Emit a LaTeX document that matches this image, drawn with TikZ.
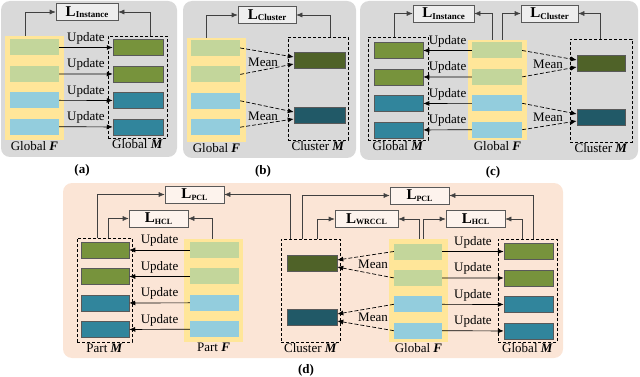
\documentclass[tikz,border=0pt]{standalone}
\usepackage{fontspec}
\setmainfont{Liberation Serif}
\usepackage{tikz}
\usetikzlibrary{positioning, arrows.meta}

\definecolor{panelgray}{HTML}{D9D9D9}
\definecolor{panelpeach}{HTML}{FBE5D6}
\definecolor{colyellow}{HTML}{FFE699}
\definecolor{fgreen}{HTML}{C3D69B}
\definecolor{fblue}{HTML}{93CDDD}
\definecolor{mgreen}{HTML}{77933C}
\definecolor{mteal}{HTML}{31859C}
\definecolor{cgreen}{HTML}{4F6228}
\definecolor{cteal}{HTML}{215967}

\newcommand{\lossname}[2][9]{{\fontsize{15}{15}\selectfont\textbf{L}}\raisebox{-1.5pt}{\fontsize{#1}{#1}\selectfont\textbf{#2}}}

\begin{document}
\begin{tikzpicture}[
    x=1pt, y=-1pt,
    node distance=10pt,
    panel/.style={rectangle, rounded corners=9pt, fill=panelgray},
    fcol/.style={rectangle, fill=colyellow, minimum width=59pt, inner sep=0pt},
    mbox/.style={rectangle, draw, dashed, dash pattern=on 3pt off 2pt, line width=0.9pt, minimum width=59pt, inner sep=0pt},
    fbar/.style={rectangle, minimum width=49pt, minimum height=16pt, inner sep=0pt},
    mbar/.style={fbar, draw=black!65, line width=0.5pt},
    lossbox/.style={rectangle, draw=black!65, line width=0.6pt, fill=white!55!panelgray, minimum height=17pt, inner sep=0pt},
    lbl/.style={inner sep=1pt},
    tag/.style={font=\fontsize{13}{14}\selectfont\bfseries},
    upd/.style={-{Latex[length=6pt,width=5pt]}, line width=0.7pt},
    meanarr/.style={upd, dashed, dash pattern=on 4pt off 2pt},
    lossarr/.style={-{Latex[length=6pt,width=5pt]}, line width=0.6pt, draw=black!75},
    font=\fontsize{13}{14}\selectfont
]
\useasboundingbox (0,0) rectangle (640,377);

\node[panel, minimum width=176pt, minimum height=156pt] (aBg) at (89,79) {};
\node[panel, minimum width=173pt, minimum height=157pt] (bBg) at (269.5,79.5) {};
\node[panel, minimum width=278pt, minimum height=159pt] (cBg) at (499,80.5) {};
\node[panel, fill=panelpeach, minimum width=500pt, minimum height=175pt] (dBg) at (313,270.5) {};

\node[fcol, minimum height=104pt] (aFcol) at (34.5,88) {};
\node[mbox, minimum height=102pt] (aMbox) at (137.5,87) {};
\node[fbar, fill=fgreen] (aF1) at (34.5,47.5) {};
\node[fbar, fill=fgreen, below=of aF1] (aF2) {};
\node[fbar, fill=fblue, below=of aF2] (aF3) {};
\node[fbar, fill=fblue, below=of aF3] (aF4) {};
\node[mbar, fill=mgreen, minimum width=50pt] (aM1) at (138,47.5) {};
\node[mbar, fill=mgreen, minimum width=50pt, below=of aM1] (aM2) {};
\node[mbar, fill=mteal, minimum width=50pt, below=of aM2] (aM3) {};
\node[mbar, fill=mteal, minimum width=50pt, below=of aM3] (aM4) {};
\node[lossbox, minimum width=62pt] (aL) at (87,12) {\lossname{Instance}};
\node[lbl, below=0pt of aFcol] (aFlbl) {Global \textbf{\textit{F}}};
\node[lbl, below=0pt of aMbox] (aMlbl) {Global \textbf{\textit{M}}};
\node[tag] (aTag) at (82,170) {(a)};

\draw[upd] (aF1) -- node[above, inner sep=3pt] {Update} (aM1);
\draw[upd] (aF2) -- node[above, inner sep=3pt] {Update} (aM2);
\draw[upd] (aF3) -- node[above, inner sep=3pt] {Update} (aM3);
\draw[upd] (aF4) -- node[above, inner sep=3pt] {Update} (aM4);
\draw[lossarr] ([xshift=-9.5pt]aFcol.north) |- (aL.west);
\draw[lossarr] ([xshift=12.5pt]aMbox.north) |- (aL.east);

\node[fcol, minimum height=104pt] (bFcol) at (216.5,90) {};
\node[mbox, minimum width=60pt, minimum height=103pt] (bMbox) at (318,88.5) {};
\node[fbar, fill=fgreen] (bF1) at (215.5,48) {};
\node[fbar, fill=fgreen, below=of bF1] (bF2) {};
\node[fbar, fill=fblue, below=of bF2] (bF3) {};
\node[fbar, fill=fblue, below=of bF3] (bF4) {};
\node[mbar, fill=cgreen, minimum width=51pt] (bC1) at (319.5,60.5) {};
\node[mbar, fill=cteal, minimum width=51pt] (bC2) at (319.5,115.5) {};
\node[lossbox, minimum width=58pt] (bL) at (267,15) {\lossname{Cluster}};
\node[lbl, below=0pt of bFcol] (bFlbl) {Global \textbf{\textit{F}}};
\node[lbl, below=0pt of bMbox] (bMlbl) {Cluster \textbf{\textit{M}}};
\node[tag] (bTag) at (263,171) {(b)};

\draw[meanarr] (bF1.east) -- ([yshift=3.5pt]bC1.west);
\draw[meanarr] (bF2.east) -- ([yshift=-3.5pt]bC1.west);
\draw[meanarr] (bF3.east) -- ([yshift=3.5pt]bC2.west);
\draw[meanarr] (bF4.east) -- ([yshift=-3.5pt]bC2.west);
\node (bMean1) at (263,62) {Mean};
\node (bMean2) at (263,116) {Mean};
\draw[lossarr] ([xshift=-10.5pt]bFcol.north) |- (bL.west);
\draw[lossarr] ([xshift=12pt]bMbox.north) |- (bL.east);

\node[mbox, minimum width=60pt, minimum height=103pt] (cMbox) at (398,88.5) {};
\node[fcol, minimum height=100pt] (cFcol) at (497.5,90) {};
\node[mbox, minimum width=62pt, minimum height=103pt] (cCbox) at (601,90.5) {};
\node[mbar, fill=mgreen] (cM1) at (398.5,50.5) {};
\node[mbar, fill=mgreen, below=of cM1] (cM2) {};
\node[mbar, fill=mteal, below=of cM2] (cM3) {};
\node[mbar, fill=mteal, below=of cM3] (cM4) {};
\node[fbar, fill=fgreen, minimum width=50pt] (cF1) at (497,50.5) {};
\node[fbar, fill=fgreen, minimum width=50pt, below=of cF1] (cF2) {};
\node[fbar, fill=fblue, minimum width=50pt, below=of cF2] (cF3) {};
\node[fbar, fill=fblue, minimum width=50pt, below=of cF3] (cF4) {};
\node[mbar, fill=cgreen, minimum width=48pt] (cC1) at (601,63.5) {};
\node[mbar, fill=cteal, minimum width=48pt] (cC2) at (601,117.5) {};
\node[lossbox, minimum width=61pt] (cLI) at (443.5,13.5) {\lossname{Instance}};
\node[lossbox, minimum width=57pt] (cLC) at (549.5,13.5) {\lossname{Cluster}};
\node[lbl, below=0pt of cMbox] (cMlbl) {Global \textbf{\textit{M}}};
\node[lbl, below=0pt of cFcol] (cFlbl) {Global \textbf{\textit{F}}};
\node[lbl, below=0pt of cCbox] (cClbl) {Cluster \textbf{\textit{M}}};
\node[tag] (cTag) at (493,172) {(c)};

\draw[upd] (cF1) -- node[above, inner sep=3pt] {Update} (cM1);
\draw[upd] (cF2) -- node[above, inner sep=3pt] {Update} (cM2);
\draw[upd] (cF3) -- node[above, inner sep=3pt] {Update} (cM3);
\draw[upd] (cF4) -- node[above, inner sep=3pt] {Update} (cM4);
\draw[meanarr] (cF1.east) -- ([yshift=3.5pt]cC1.west);
\draw[meanarr] (cF2.east) -- ([yshift=-3.5pt]cC1.west);
\draw[meanarr] (cF3.east) -- ([yshift=3.5pt]cC2.west);
\draw[meanarr] (cF4.east) -- ([yshift=-3.5pt]cC2.west);
\node (cMean1) at (548,64) {Mean};
\node (cMean2) at (548,117) {Mean};
\draw[lossarr] ([xshift=-4pt]cMbox.north) |- (cLI.west);
\draw[lossarr] ([xshift=-5.5pt]cFcol.north) |- (cLI.east);
\draw[lossarr] ([xshift=4.5pt]cFcol.north) |- (cLC.west);
\draw[lossarr] ([xshift=-1pt]cCbox.north) |- (cLC.east);

\node[mbox, minimum width=55pt, minimum height=104pt] (dPMbox) at (104.5,290) {};
\node[fcol, minimum height=103pt] (dPFcol) at (213.5,290.5) {};
\node[mbox, minimum height=103pt] (dCbox) at (310.5,290.5) {};
\node[fcol, minimum height=103pt] (dGFcol) at (418.5,290.5) {};
\node[mbox, minimum height=103pt] (dGMbox) at (527.5,290.5) {};
\node[mbar, fill=mgreen, minimum width=48pt] (dPM1) at (105,250) {};
\node[mbar, fill=mgreen, minimum width=48pt, below=of dPM1] (dPM2) {};
\node[mbar, fill=mteal, minimum width=48pt, below=of dPM2] (dPM3) {};
\node[mbar, fill=mteal, minimum width=48pt, below=of dPM3] (dPM4) {};
\node[fbar, fill=fgreen] (dPF1) at (214.5,250) {};
\node[fbar, fill=fgreen, below=of dPF1] (dPF2) {};
\node[fbar, fill=fblue, below=of dPF2] (dPF3) {};
\node[fbar, fill=fblue, below=of dPF3] (dPF4) {};
\node[mbar, fill=cgreen, minimum width=50pt] (dC1) at (312,263.5) {};
\node[mbar, fill=cteal, minimum width=50pt] (dC2) at (312,317.5) {};
\node[fbar, fill=fgreen, minimum width=48pt] (dGF1) at (418,251.5) {};
\node[fbar, fill=fgreen, minimum width=48pt, below=of dGF1] (dGF2) {};
\node[fbar, fill=fblue, minimum width=48pt, below=of dGF2] (dGF3) {};
\node[fbar, fill=fblue, minimum width=48pt, below=of dGF3] (dGF4) {};
\node[mbar, fill=mgreen] (dGM1) at (528.5,251.5) {};
\node[mbar, fill=mgreen, below=of dGM1] (dGM2) {};
\node[mbar, fill=mteal, below=of dGM2] (dGM3) {};
\node[mbar, fill=mteal, below=of dGM3] (dGM4) {};
\node[lossbox, fill=white!55!panelpeach, minimum width=59pt] (dLP1) at (194.5,194.5) {\lossname[8]{PCL}};
\node[lossbox, fill=white!55!panelpeach, minimum width=59pt] (dLH1) at (158.5,218.5) {\lossname[8]{HCL}};
\node[lossbox, fill=white!55!panelpeach, minimum width=59pt] (dLP2) at (419.5,195.5) {\lossname[8]{PCL}};
\node[lossbox, fill=white!55!panelpeach, minimum width=63pt] (dLW) at (366.5,219) {\lossname[8]{WRCCL}};
\node[lossbox, fill=white!55!panelpeach, minimum width=59pt] (dLH2) at (475.5,219) {\lossname[8]{HCL}};
\node[lbl, below=0pt of dPMbox] (dPMlbl) {Part \textbf{\textit{M}}};
\node[lbl, below=0pt of dPFcol] (dPFlbl) {Part \textbf{\textit{F}}};
\node[lbl, below=0pt of dCbox] (dClbl) {Cluster \textbf{\textit{M}}};
\node[lbl, below=0pt of dGFcol] (dGFlbl) {Global \textbf{\textit{F}}};
\node[lbl, below=0pt of dGMbox] (dGMlbl) {Global \textbf{\textit{M}}};
\node[tag] (dTag) at (306,370) {(d)};

\draw[upd] (dPF1) -- node[above, inner sep=3pt] {Update} (dPM1);
\draw[upd] (dPF2) -- node[above, inner sep=3pt] {Update} (dPM2);
\draw[upd] (dPF3) -- node[above, inner sep=3pt] {Update} (dPM3);
\draw[upd] (dPF4) -- node[above, inner sep=3pt] {Update} (dPM4);
\draw[upd] (dGF1) -- node[above, inner sep=3pt] {Update} (dGM1);
\draw[upd] (dGF2) -- node[above, inner sep=3pt] {Update} (dGM2);
\draw[upd] (dGF3) -- node[above, inner sep=3pt] {Update} (dGM3);
\draw[upd] (dGF4) -- node[above, inner sep=3pt] {Update} (dGM4);
\draw[meanarr] (dGF1.west) -- ([yshift=3.5pt]dC1.east);
\draw[meanarr] (dGF2.west) -- ([yshift=-3.5pt]dC1.east);
\draw[meanarr] (dGF3.west) -- ([yshift=3.5pt]dC2.east);
\draw[meanarr] (dGF4.west) -- ([yshift=-3.5pt]dC2.east);
\node (dMean1) at (373,264) {Mean};
\node (dMean2) at (373,317) {Mean};
\draw[lossarr] ([xshift=-7.5pt]dPMbox.north) |- (dLP1.west);
\draw[lossarr] ([xshift=3.5pt]dPMbox.north) |- (dLH1.west);
\draw[lossarr] ([xshift=-1.5pt]dPFcol.north) |- (dLH1.east);
\draw[lossarr] ([xshift=-20.5pt]dCbox.north) |- (dLP1.east);
\draw[lossarr] ([xshift=-8.5pt]dCbox.north) |- (dLP2.west);
\draw[lossarr] ([xshift=6.5pt]dCbox.north) |- (dLW.west);
\draw[lossarr] ([xshift=0.5pt]dGFcol.north) |- (dLW.east);
\draw[lossarr] ([xshift=5pt]dGFcol.north) |- (dLH2.west);
\draw[lossarr] ([xshift=5.5pt]dGMbox.north) |- (dLP2.east);
\draw[lossarr] ([xshift=-5.5pt]dGMbox.north) |- (dLH2.east);
\end{tikzpicture}
\end{document}
